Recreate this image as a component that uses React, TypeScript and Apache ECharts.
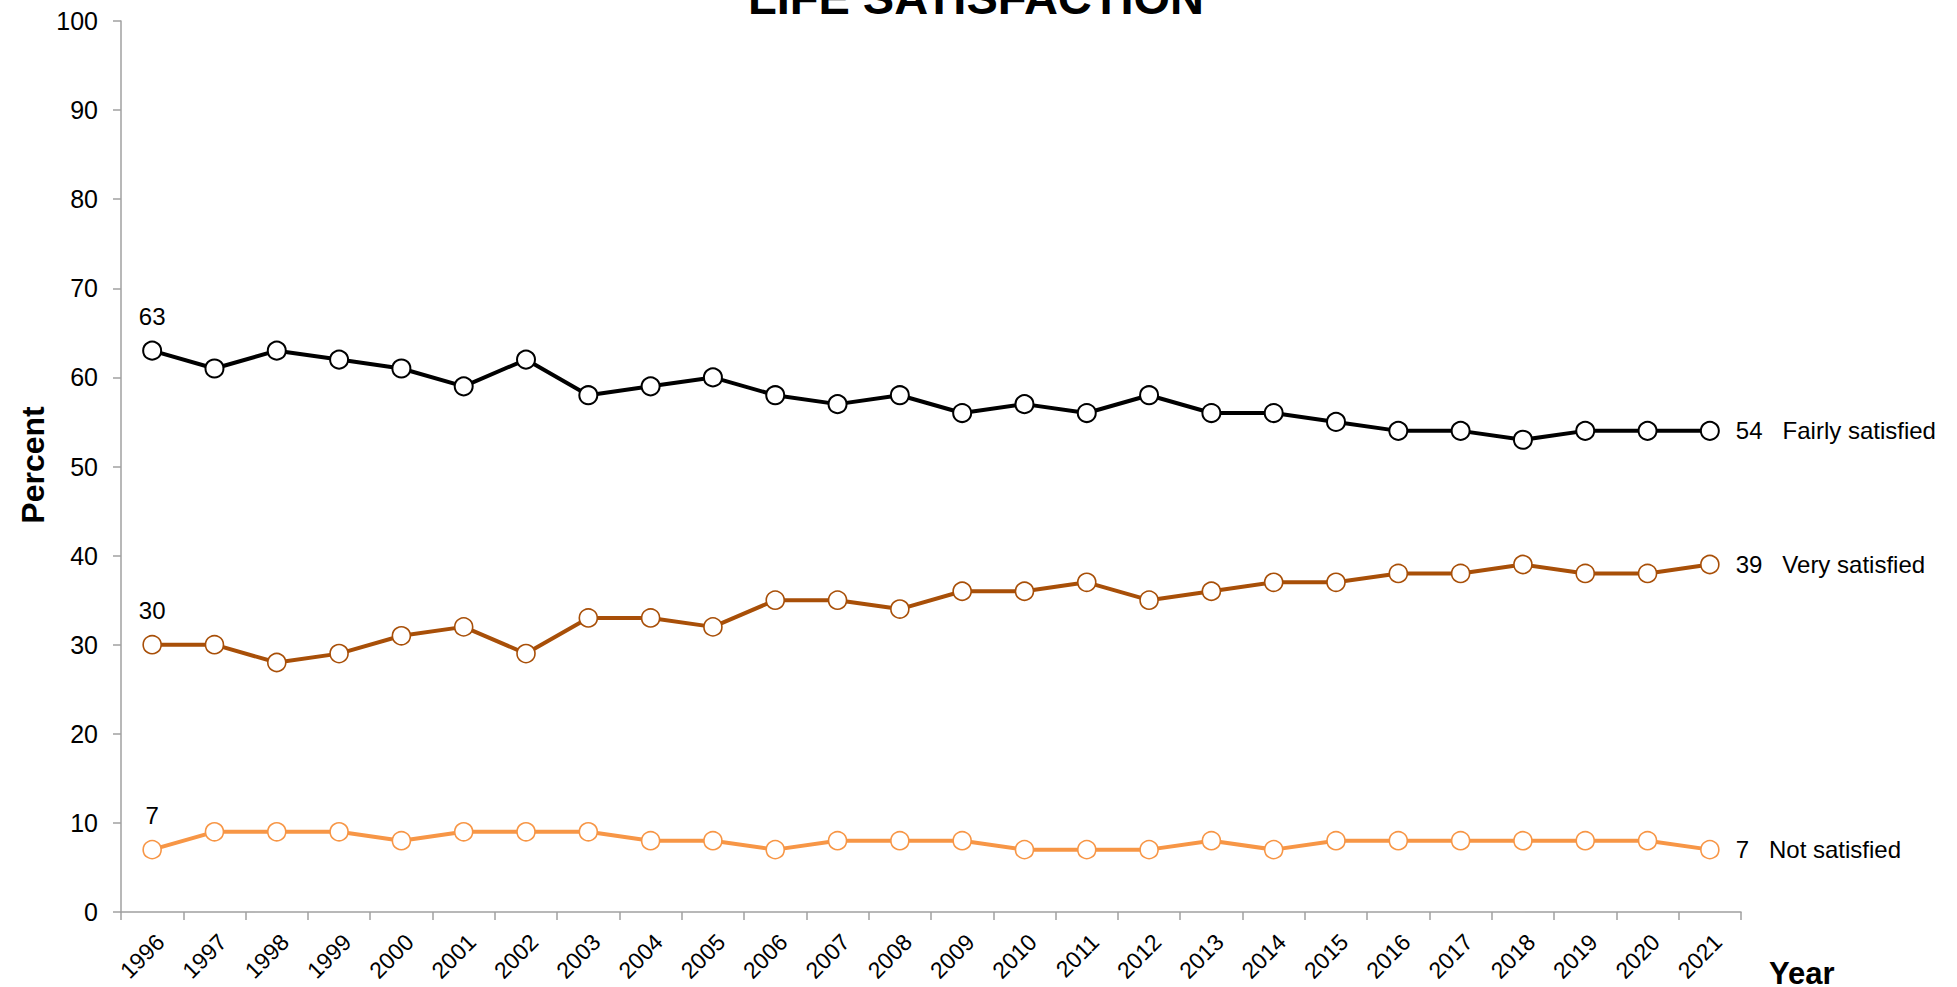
import React, { useEffect, useRef } from "react";
import * as echarts from "echarts";

const years = ["1996","1997","1998","1999","2000","2001","2002","2003","2004","2005","2006","2007","2008","2009","2010","2011","2012","2013","2014","2015","2016","2017","2018","2019","2020","2021"];
const fairlySatisfied = [63,61,63,62,61,59,62,58,59,60,58,57,58,56,57,56,58,56,56,55,54,54,53,54,54,54];
const verySatisfied = [30,30,28,29,31,32,29,33,33,32,35,35,34,36,36,37,35,36,37,37,38,38,39,38,38,39];
const notSatisfied = [7,9,9,9,8,9,9,9,8,8,7,8,8,8,7,7,7,8,7,8,8,8,8,8,8,7];
const yTicks = [0,10,20,30,40,50,60,70,80,90,100];

const FONT = "'Liberation Sans', Arial, sans-serif";

const seriesDefs = [
  { name: "Fairly satisfied", values: fairlySatisfied, color: "#000000", border: 2, width: 4 },
  { name: "Very satisfied", values: verySatisfied, color: "#A84F08", border: 1.6, width: 4 },
  { name: "Not satisfied", values: notSatisfied, color: "#F79646", border: 1.6, width: 4 },
];

function buildData(name: string, values: number[]) {
  return values.map((v, i) => {
    if (i === 0) {
      return {
        value: v,
        label: {
          show: true,
          position: "top",
          distance: 12,
          formatter: String(v),
        },
      };
    }
    if (i === values.length - 1) {
      return {
        value: v,
        label: {
          show: true,
          position: "right",
          distance: 16,
          formatter: `${v}   ${name}`,
        },
      };
    }
    return { value: v };
  });
}

export default function App() {
  const ref = useRef<HTMLDivElement>(null);
  useEffect(() => {
    document.body.style.margin = "0";
    document.body.style.overflow = "hidden";
    if (!ref.current) return;
    const chart = echarts.init(ref.current, undefined, { renderer: "svg" });
    chart.setOption({
      animation: false,
      backgroundColor: "#ffffff",
      grid: { left: 121, right: 216, top: 21, bottom: 75, containLabel: false, outerBoundsMode: "none" },
      xAxis: {
        type: "category",
        data: years,
        boundaryGap: true,
        axisLine: { show: true, lineStyle: { color: "#A0A0A0", width: 1.5 } },
        axisTick: { show: true, length: 8, inside: false, alignWithLabel: false, lineStyle: { color: "#A0A0A0", width: 1.5 } },
        axisLabel: {
          interval: 0,
          rotate: 45,
          margin: 18,
          fontSize: 23,
          align: "right",
          verticalAlign: "top",
          fontFamily: FONT,
          color: "#000",
        },
        splitLine: { show: false },
      },
      yAxis: {
        type: "value",
        min: yTicks[0],
        max: yTicks[yTicks.length - 1],
        interval: yTicks[1] - yTicks[0],
        axisLine: { show: true, lineStyle: { color: "#A0A0A0", width: 1.5 } },
        axisTick: { show: true, length: 8, inside: false, lineStyle: { color: "#A0A0A0", width: 1.5 } },
        axisLabel: { margin: 23, fontSize: 25, fontFamily: FONT, color: "#000" },
        splitLine: { show: false },
      },
      series: seriesDefs.map((s) => ({
        type: "line",
        name: s.name,
        data: buildData(s.name, s.values),
        symbol: "circle",
        symbolSize: 18,
        lineStyle: { color: s.color, width: s.width },
        itemStyle: { color: "#ffffff", borderColor: s.color, borderWidth: s.border },
        label: { fontSize: 24, fontFamily: FONT, color: "#000" },
        z: 3,
      })),
      graphic: [
        {
          type: "text",
          x: 976,
          y: -3,
          style: {
            text: "LIFE SATISFACTION",
            font: `bold 47px ${FONT}`,
            fill: "#000",
            align: "center",
            verticalAlign: "middle",
          },
        },
        {
          type: "text",
          x: 33,
          y: 465,
          rotation: Math.PI / 2,
          style: {
            text: "Percent",
            font: `bold 32px ${FONT}`,
            fill: "#000",
            align: "center",
            verticalAlign: "middle",
          },
        },
        {
          type: "text",
          x: 1769,
          y: 973,
          style: {
            text: "Year",
            font: `bold 31px ${FONT}`,
            fill: "#000",
            align: "left",
            verticalAlign: "middle",
          },
        },
      ],
    });
    return () => chart.dispose();
  }, []);
  return <div ref={ref} style={{ width: "1957px", height: "987px" }} />;
}
